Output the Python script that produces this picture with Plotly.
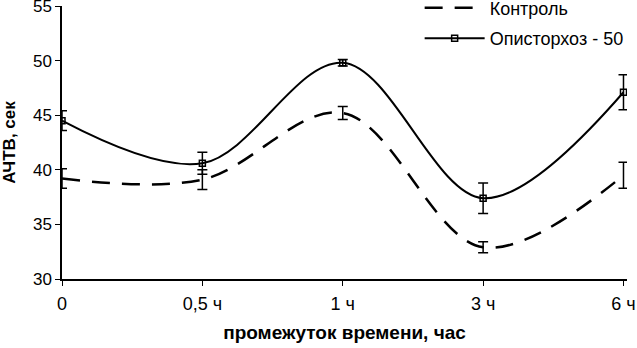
import plotly.graph_objects as go

categories = ["0", "0,5 ч", "1 ч", "3 ч", "6 ч"]
control = [39.2, 39.1, 45.2, 32.9, 39.5]
control_err = [0.9, 0.9, 0.6, 0.5, 1.2]
opis = [44.5, 40.6, 49.8, 37.4, 47.1]
opis_err = [0.9, 1.0, 0.3, 1.4, 1.6]
y_ticks = [30, 35, 40, 45, 50, 55]

xpos = list(range(len(categories)))
font = "Liberation Sans, Arial, sans-serif"

fig = go.Figure()
fig.add_trace(go.Scatter(
    x=xpos, y=control, name="Контроль", mode="lines", legendgroup="c",
    line=dict(color="black", width=2.5, dash="18px,12px", shape="spline", smoothing=1.0),
    error_y=dict(type="data", array=control_err, color="black", thickness=1.5, width=5),
))
fig.add_trace(go.Scatter(
    x=xpos, y=opis, name="Описторхоз - 50", mode="lines+markers", legendgroup="o",
    line=dict(color="black", width=2, shape="spline", smoothing=1.0),
    marker=dict(symbol="square-open", size=6, color="black", line=dict(width=1.5)),
    error_y=dict(type="data", array=opis_err, color="black", thickness=1.5, width=5),
))

fig.update_layout(
    width=637, height=348,
    margin=dict(l=62, r=10, t=6, b=69, autoexpand=False),
    paper_bgcolor="white", plot_bgcolor="white",
    font=dict(family=font, size=17, color="black"),
    showlegend=True,
    legend=dict(x=0.633, y=1.06, xanchor="left", yanchor="top",
                bgcolor="rgba(0,0,0,0)", font=dict(size=18), tracegroupgap=4,
                itemwidth=60),
)
fig.update_xaxes(
    range=[0, 4.025], tickvals=xpos, ticktext=categories,
    showline=True, linecolor="black", linewidth=1.5,
    ticks="outside", ticklen=5, tickcolor="black", ticklabeloverflow="allow",
    tickfont=dict(size=18),
    showgrid=False, zeroline=False, ticklabelstandoff=3, automargin=False,
    title=dict(text="<b>промежуток времени, час</b>", font=dict(size=19), standoff=12),
)
fig.update_yaxes(
    range=[30, 55], tickvals=y_ticks,
    showline=True, linecolor="black", linewidth=1.5,
    ticks="outside", ticklen=5, tickcolor="black", ticklabeloverflow="allow",
    tickfont=dict(size=17),
    showgrid=False, zeroline=False, automargin=False,
    title=dict(text="<b>АЧТВ, сек</b>", font=dict(size=17), standoff=13),
)
fig.write_html("out.html", config={"displayModeBar": False},
               post_script="document.body.style.margin='0';document.body.style.padding='0';")
